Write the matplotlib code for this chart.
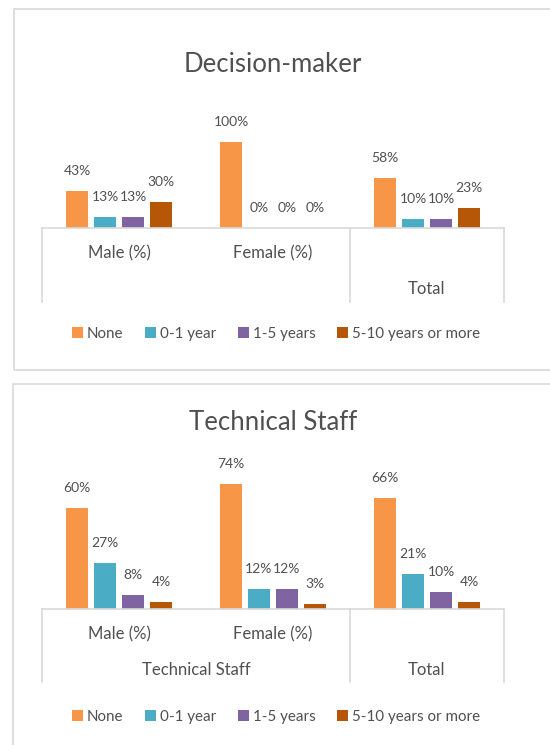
import numpy as np
import matplotlib
matplotlib.use("Agg")
import matplotlib.pyplot as plt
from matplotlib.patches import Rectangle, Patch

plt.rcParams['font.family'] = ['Lato', 'DejaVu Sans']

categories = ["Male (%)", "Female (%)", "Total"]
series = ["None", "0-1 year", "1-5 years", "5-10 years or more"]
colors = ["#F79646", "#4BACC6", "#8064A2", "#B65708"]

dm_none = [43, 100, 58]
dm_0_1 = [13, 0, 10]
dm_1_5 = [13, 0, 10]
dm_5_10 = [30, 0, 23]

ts_none = [60, 74, 66]
ts_0_1 = [27, 12, 21]
ts_1_5 = [8, 12, 10]
ts_5_10 = [4, 3, 4]

W, H = 550, 745
TXT = "#505050"
GRID = "#D9D9D9"

fig = plt.figure(figsize=(W / 100, H / 100), dpi=100)


def fx(px):
    return px / W


def fy(px):
    return 1 - px / H


def panel(box, title, title_y, ax_top, ax_bottom, ymax, values, group_label, sep_len, legend_y):
    # outer frame of the chart
    x0, y0, x1, y1 = box
    fig.patches.append(Rectangle((fx(x0), fy(y1)), fx(x1 - x0), (y1 - y0) / H,
                                 transform=fig.transFigure, fill=False,
                                 edgecolor=GRID, lw=1.2))
    fig.text(fx(273), fy(title_y), title, ha='center', va='center',
             fontsize=18.5, color=TXT)

    ax = fig.add_axes([fx(42), fy(ax_bottom), fx(504 - 42), (ax_bottom - ax_top) / H])
    x = np.arange(len(categories))
    step = 28 / 154
    width = 22 / 154
    for i, (vals, c) in enumerate(zip(values, colors)):
        pos = x + (i - 1.5) * step
        bars = ax.bar(pos, vals, width, color=c, label=series[i])
        for b, v in zip(bars, vals):
            ax.annotate(f"{v}%", (b.get_x() + b.get_width() / 2, v),
                        xytext=(0, 20), textcoords='offset pixels',
                        ha='center', va='center', fontsize=10, color=TXT,
                        annotation_clip=False)

    ax.set_xlim(-0.5, 2.5)
    ax.set_ylim(0, ymax)
    for s in ['top', 'left', 'right']:
        ax.spines[s].set_visible(False)
    ax.spines['bottom'].set_color(GRID)
    ax.spines['bottom'].set_linewidth(1.2)
    ax.set_xticks([])
    ax.set_yticks([])
    ax.patch.set_alpha(0)

    axh = ax_bottom - ax_top
    tr = ax.get_xaxis_transform()
    for sx in [-0.5, 1.5, 2.5]:
        ax.plot([sx, sx], [0, -sep_len / axh], transform=tr, color=GRID,
                lw=1.2, clip_on=False)
    for i in range(2):
        ax.text(x[i], -25 / axh, categories[i], transform=tr, ha='center',
                va='center', fontsize=12, color=TXT)
    ax.text(x[2], -61 / axh, categories[2], transform=tr, ha='center',
            va='center', fontsize=12, color=TXT)
    if group_label:
        ax.text(0.5, -61 / axh, group_label, transform=tr, ha='center',
                va='center', fontsize=12, color=TXT)

    handles = [Patch(facecolor=c, label=s) for c, s in zip(colors, series)]
    fig.legend(handles=handles, loc='center', ncol=4, frameon=False,
               bbox_to_anchor=(fx(276), fy(legend_y)), fontsize=10.9,
               handlelength=0.72, handleheight=0.72, handletextpad=0.25,
               columnspacing=1.45, labelcolor=TXT)


panel((14, 9, 560, 370), "Decision-maker", 64, 125, 228, 120,
      [dm_none, dm_0_1, dm_1_5, dm_5_10], "", 74, 334)
panel((13, 384, 560, 760), "Technical Staff", 423, 457, 609, 90,
      [ts_none, ts_0_1, ts_1_5, ts_5_10], "Technical Staff", 73, 717)

fig.savefig("out.png", dpi=100)
